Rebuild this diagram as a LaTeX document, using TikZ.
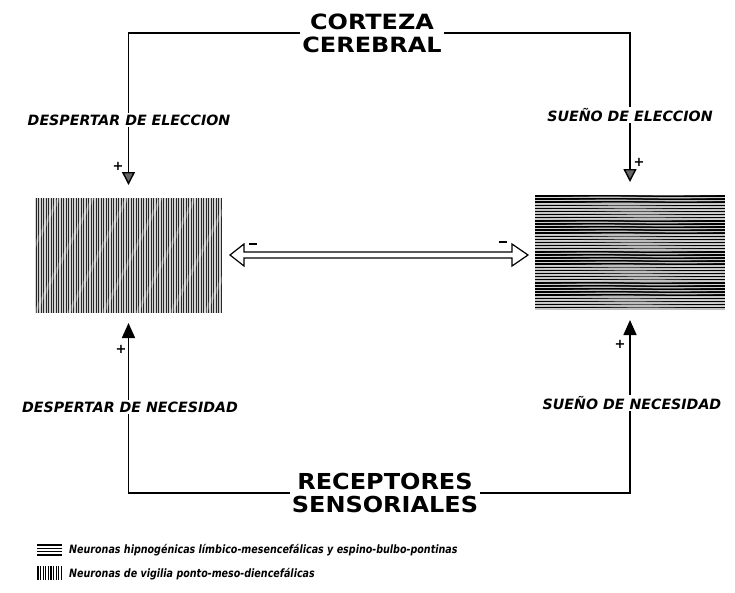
\documentclass[tikz,border=0pt]{standalone}
\usepackage{fontspec}
\setmainfont{DejaVu Sans}
\usetikzlibrary{arrows.meta,calc}
\begin{document}
\begin{tikzpicture}[x=1pt,y=-1pt,
  conn/.style={line width=1.6pt},
  title/.style={font=\fontsize{21}{23}\selectfont\bfseries, align=center, inner sep=2pt, text height=38pt, text depth=0pt},
  lbl/.style={font=\fontsize{14.2}{16}\selectfont\bfseries\itshape, fill=white, inner sep=1.5pt},
  sign/.style={font=\fontsize{13}{13}\selectfont\bfseries, inner sep=0pt},
  legtext/.style={font=\fontsize{11.5}{13}\selectfont\bfseries\itshape, anchor=west, inner sep=0pt},
  hbox/.style={inner sep=0pt, outer sep=0pt},
  toptip/.style={-{Triangle[length=13pt,width=13pt,fill=black!60,line width=1.4pt]}},
  bottip/.style={-{Triangle[length=15pt,width=13pt]}}
]
\useasboundingbox (0,0) rectangle (735,592);

% boxes
\node[hbox, minimum width=187pt, minimum height=115pt, fill=black!18] (L) at (128.5,255.5) {};
\node[hbox, minimum width=190pt, minimum height=115pt, fill=black!25] (R) at (630,252.5) {};
\begin{scope}
  \clip (L.north west) rectangle (L.south east);
  \foreach \i in {0,...,74} \draw[line width=0.8pt, black!85] ($(L.north west)+(1+\i*2.5,0)$) -- ++(0,115);
  \foreach \i in {-4,...,6} \draw[line width=3pt, white, opacity=0.25] ($(L.south west)+(\i*34,0)$) -- ++(58,-115);
\end{scope}
\begin{scope}
  \clip (R.north west) rectangle (R.south east);
  \foreach \i in {0,...,36} \draw[line width=1.5pt, black] ($(R.north west)+(0,1+\i*3.1)$) -- ++(190,0);
  \foreach \i in {0,...,36} \draw[line width=0.5pt, white, opacity=0.5] ($(R.north west)+(0,2.6+\i*3.1)$) -- ++(190,-3);
\end{scope}

% titles
\node[title] (ct) at (372,33) {\scalebox{1.14}[1]{CORTEZA}\\\scalebox{1.14}[1]{CEREBRAL}};
\node[title, font=\fontsize{22}{23}\selectfont\bfseries, text height=39pt] (rs) at (385,493) {\scalebox{1.09}[1]{RECEPTORES}\\\scalebox{1.09}[1]{SENSORIALES}};

% connectors
\draw[conn, toptip] (ct.west) -| ([yshift=13pt]L.north);
\draw[conn, toptip] (ct.east) -| ([yshift=13pt]R.north);
\draw[conn, bottip] (rs.west) -| ([yshift=-10pt]L.south);
\draw[conn, bottip] (rs.east) -| ([yshift=-10pt]R.south);

% connector labels
\node[lbl] (l1) at (129,120) {DESPERTAR DE ELECCION};
\node[lbl] (l2) at (630,115) {SUEÑO DE ELECCION};
\node[lbl] (l3) at (130,407) {DESPERTAR DE NECESIDAD};
\node[lbl] (l4) at (632,403) {SUEÑO DE NECESIDAD};

% double arrow between boxes
\coordinate (A) at ($(L.east)+(8,-0.5)$);
\coordinate (B) at ($(A -| R.west)+(-7,0)$);
\draw[line width=1.2pt, line join=miter] (A) -- ++(14,-11) -- ++(0,8) -- ($(B)+(-16,-3)$) -- ++(0,-8) -- (B) -- ++(-16,11) -- ++(0,-8) -- ($(A)+(14,3)$) -- ++(0,8) -- cycle;

% signs
\node[sign] (p1) at (118,166) {+};
\node[sign] (p2) at (639,162) {+};
\node[sign] (p3) at (121,349) {+};
\node[sign] (p4) at (620,344) {+};
\node[sign] (m1) at (253,244) {\rule{8pt}{1.8pt}};
\node[sign] (m2) at (503,242) {\rule{8pt}{1.8pt}};

% legend
\node[hbox, minimum width=25pt, minimum height=12pt] (k1) at (49.5,550) {};
\begin{scope}
  \clip (k1.north west) rectangle (k1.south east);
  \foreach \i in {0,...,3} \draw[line width=1.6pt] ($(k1.north west)+(0,1+\i*3.3)$) -- ++(25,0);
\end{scope}
\node[legtext] (t1) at (69,550) {\scalebox{0.83}[1]{Neuronas hipnogénicas límbico-mesencefálicas y espino-bulbo-pontinas}};
\node[hbox, minimum width=25pt, minimum height=14pt] (k2) at (49.5,573) {};
\begin{scope}
  \clip (k2.north west) rectangle (k2.south east);
  \foreach \i in {0,...,9} \draw[line width=1.1pt] ($(k2.north west)+(1+\i*2.6,0)$) -- ++(0,14);
\end{scope}
\node[legtext] (t2) at (69,574) {\scalebox{0.83}[1]{Neuronas de vigilia ponto-meso-diencefálicas}};
\end{tikzpicture}
\end{document}
